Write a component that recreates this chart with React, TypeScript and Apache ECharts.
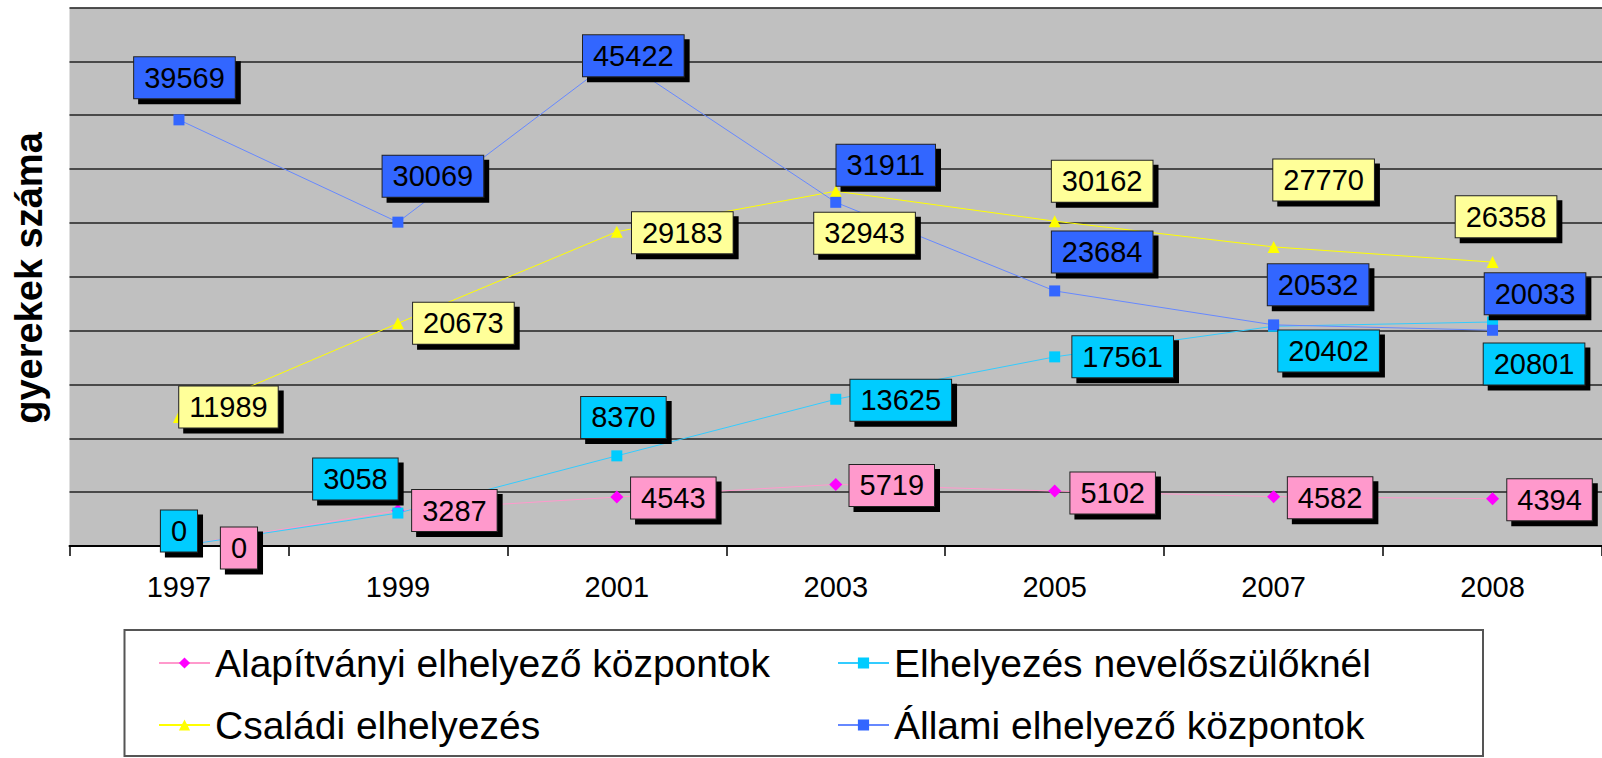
import React, { useEffect, useRef } from "react";
import * as echarts from "echarts";

const years = ["1997", "1999", "2001", "2003", "2005", "2007", "2008"];
const alapitvanyi = [0, 3287, 4543, 5719, 5102, 4582, 4394];
const nevelo = [0, 3058, 8370, 13625, 17561, 20402, 20801];
const csaladi = [11989, 20673, 29183, 32943, 30162, 27770, 26358];
const allami = [39569, 30069, 45422, 31911, 23684, 20532, 20033];
const seriesNames = [
  "Alapítványi elhelyező központok",
  "Elhelyezés nevelőszülőknél",
  "Családi elhelyezés",
  "Állami elhelyező központok",
];
const yTitle = "gyerekek száma";
const yMax = 50000;
const yStep = 5000;

// label placement (layout only, offsets from each point in px)
const offA = [[60, 2], [56.5, 0], [56.5, 1], [56, 1], [58, 2], [56.5, 1], [57, 1]];
const offN = [[0, -15], [-42.5, -34], [6.6, -38.4], [65, 1], [68, 0], [55, 24.7], [41.5, 42]];
const offC = [[49.5, -10], [65.5, 0], [65.5, 1], [28.8, 42], [47.5, -40], [50, -67], [13.5, -45.4]];
const offS = [[5.5, -42], [35, -46], [16.5, -1], [50, -37], [47.5, -39], [44.5, -40], [42.5, -36.5]];

const FONT = "'Liberation Sans', Arial, sans-serif";

function mk(
  name: string,
  values: number[],
  offsets: number[][],
  markerColor: string,
  lineColor: string,
  labelBg: string,
  symbol: string,
  symbolSize: number
) {
  return {
    type: "line",
    name,
    data: values.map((v, i) => ({ value: v, label: { offset: offsets[i] } })),
    symbol,
    symbolSize,
    showAllSymbol: true,
    itemStyle: { color: markerColor },
    lineStyle: { color: lineColor, width: 1 },
    label: {
      show: true,
      position: "inside",
      formatter: "{c}",
      color: "#000",
      fontSize: 29,
      fontFamily: FONT,
      lineHeight: 29,
      backgroundColor: labelBg,
      borderColor: "#222",
      borderWidth: 1,
      padding: [6, 10, 6, 10],
      shadowColor: "#000",
      shadowOffsetX: 5,
      shadowOffsetY: 5,
      shadowBlur: 0,
    },
    emphasis: { disabled: true },
  };
}

export default function App() {
  const ref = useRef<HTMLDivElement>(null);
  useEffect(() => {
    if (!ref.current) return;
    const chart = echarts.init(ref.current, undefined, { renderer: "svg" });
    const legendCommon = {
      orient: "vertical",
      top: 641,
      padding: 0,
      itemWidth: 51,
      itemHeight: 14,
      itemGap: 18,
      selectedMode: false,
      textStyle: { fontSize: 39, fontFamily: FONT, color: "#000", lineHeight: 44 },
    };
    chart.setOption({
      animation: false,
      backgroundColor: "#fff",
      grid: {
        left: 69.5,
        top: 7.5,
        right: -7.5,
        bottom: 212,
        show: true,
        backgroundColor: "#C0C0C0",
        borderWidth: 0,
        containLabel: false,
      },
      xAxis: {
        type: "category",
        data: years,
        boundaryGap: true,
        axisLine: { show: true, lineStyle: { color: "#000", width: 2 } },
        axisTick: { show: true, length: 10, lineStyle: { color: "#000", width: 1.5 } },
        axisLabel: { fontSize: 29, fontFamily: FONT, color: "#000", margin: 26 },
        splitLine: { show: false },
      },
      yAxis: {
        type: "value",
        min: 0,
        max: yMax,
        interval: yStep,
        axisLine: { show: false },
        axisTick: { show: false },
        axisLabel: { show: false },
        splitLine: { show: true, lineStyle: { color: "#222", width: 1.6 } },
      },
      legend: [
        { ...legendCommon, left: 158, data: [seriesNames[0], seriesNames[2]] },
        { ...legendCommon, left: 837, data: [seriesNames[1], seriesNames[3]] },
      ],
      graphic: [
        {
          type: "rect",
          shape: { x: 124.5, y: 630, width: 1358.5, height: 126 },
          style: { fill: "#fff", stroke: "#555", lineWidth: 2 },
          z: -1,
        },
        {
          type: "text",
          x: 29,
          y: 278,
          rotation: Math.PI / 2,
          style: {
            text: yTitle,
            font: `bold 38px ${FONT}`,
            fill: "#000",
            textAlign: "center",
            textVerticalAlign: "middle",
          },
        },
      ],
      series: [
        mk(seriesNames[0], alapitvanyi, offA, "#FF00FF", "#FF99CC", "#FF99CC", "diamond", 13),
        mk(seriesNames[1], nevelo, offN, "#00CCFF", "#33CCFF", "#00CCFF", "rect", 11),
        mk(seriesNames[2], csaladi, offC, "#FFFF00", "#FFFF00", "#FFFF99", "triangle", 12),
        mk(seriesNames[3], allami, offS, "#3366FF", "#6688FF", "#3366FF", "rect", 11),
      ],
    });
    return () => chart.dispose();
  }, []);
  return (
    <div
      ref={ref}
      style={{ position: "fixed", left: 0, top: 0, width: 1602, height: 758 }}
    />
  );
}
